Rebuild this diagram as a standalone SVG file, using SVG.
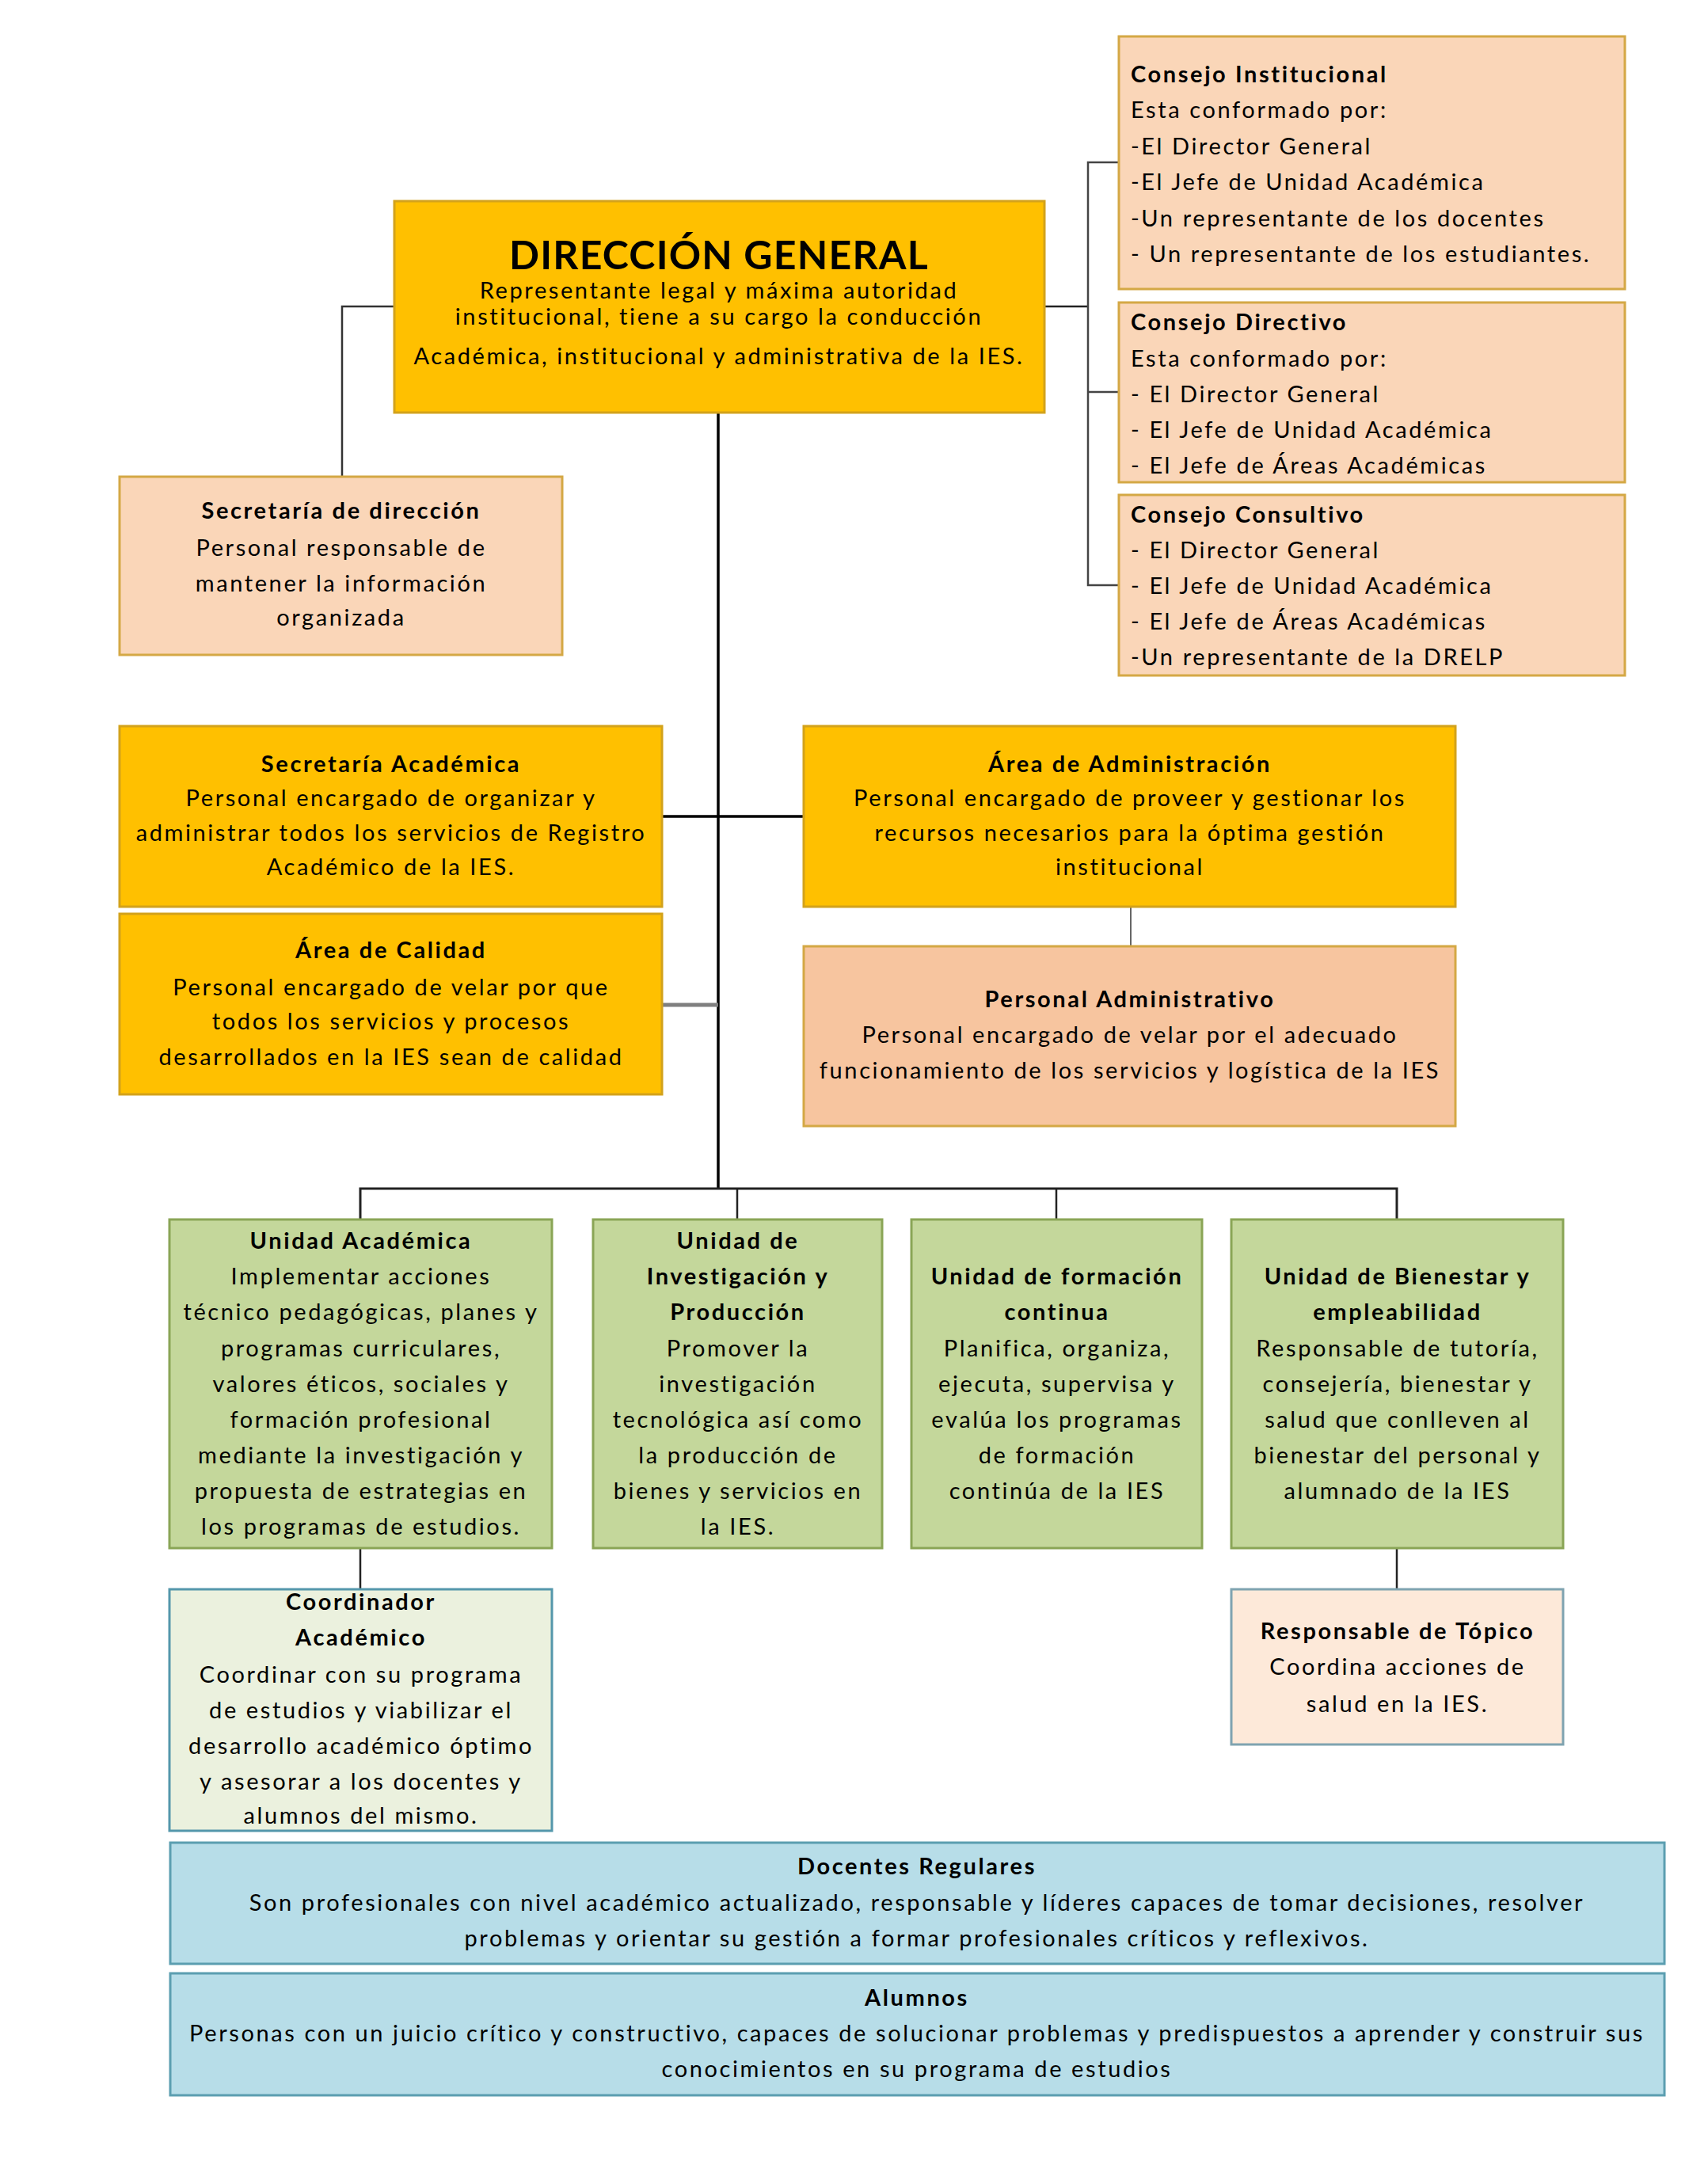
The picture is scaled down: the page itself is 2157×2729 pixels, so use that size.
<svg xmlns="http://www.w3.org/2000/svg" width="2157" height="2729" viewBox="0 0 2157 2729">
<style>
text{font-family:Lato,"Liberation Sans",sans-serif;font-size:29px;fill:#000;letter-spacing:2.6px}
.c{text-anchor:middle}
.b{font-weight:bold}
.t{font-size:50px;font-weight:bold;letter-spacing:1.2px}
.gold{fill:#FFC000;stroke:#D3A21B;stroke-width:3}
.peach{fill:#FAD6B8;stroke:#D4A845;stroke-width:3}
.peach2{fill:#F7C59F;stroke:#D4A845;stroke-width:3}
.green{fill:#C4D79B;stroke:#8AA556;stroke-width:3}
.lgreen{fill:#EBF1DE;stroke:#5497AB;stroke-width:3}
.lpink{fill:#FDE9D9;stroke:#7FA3B0;stroke-width:3}
.blue{fill:#B7DDE8;stroke:#5B9EB0;stroke-width:3}
.ln{fill:none;stroke:#222;stroke-width:2.5}
</style>
<rect width="2157" height="2729" fill="#fff"/>
<g id="connectors">
<line class="ln" x1="907" y1="521" x2="907" y2="1502" style="stroke:#000;stroke-width:3.5"/>
<polyline class="ln" points="498,387 432,387 432,601" style="stroke:#333"/>
<polyline class="ln" points="1319,387 1374,387"/>
<polyline class="ln" points="1413,205 1374,205 1374,739 1413,739" style="stroke:#444"/>
<line class="ln" x1="1374" y1="495" x2="1413" y2="495" style="stroke:#444"/>
<line class="ln" x1="836" y1="1031" x2="1015" y2="1031" style="stroke:#000;stroke-width:3.5"/>
<line class="ln" x1="836" y1="1269" x2="907" y2="1269" style="stroke:#7f7f7f;stroke-width:5"/>
<line class="ln" x1="1428" y1="1145" x2="1428" y2="1195" style="stroke:#666;stroke-width:2"/>
<polyline class="ln" points="455,1540 455,1501 1764,1501 1764,1540" style="stroke-width:3"/>
<line class="ln" x1="931" y1="1501" x2="931" y2="1540"/>
<line class="ln" x1="1334" y1="1501" x2="1334" y2="1540"/>
<line class="ln" x1="455" y1="1955" x2="455" y2="2012"/>
<line class="ln" x1="1764" y1="1955" x2="1764" y2="2007"/>
</g>
<g id="consejo-institucional">
<rect class="peach" x="1413" y="46" width="639" height="319"/>
<text x="1428" y="104" class="b">Consejo Institucional</text>
<text x="1428" y="149">Esta conformado por:</text>
<text x="1428" y="195">-El Director General</text>
<text x="1428" y="240">-El Jefe de Unidad Académica</text>
<text x="1428" y="286">-Un representante de los docentes</text>
<text x="1428" y="331">- Un representante de los estudiantes.</text>
</g>
<g id="consejo-directivo">
<rect class="peach" x="1413" y="382" width="639" height="227"/>
<text x="1428" y="417" class="b">Consejo Directivo</text>
<text x="1428" y="463">Esta conformado por:</text>
<text x="1428" y="508">- El Director General</text>
<text x="1428" y="553">- El Jefe de Unidad Académica</text>
<text x="1428" y="598">- El Jefe de Áreas Académicas</text>
</g>
<g id="consejo-consultivo">
<rect class="peach" x="1413" y="625" width="639" height="228"/>
<text x="1428" y="660" class="b">Consejo Consultivo</text>
<text x="1428" y="705">- El Director General</text>
<text x="1428" y="750">- El Jefe de Unidad Académica</text>
<text x="1428" y="795">- El Jefe de Áreas Académicas</text>
<text x="1428" y="840">-Un representante de la DRELP</text>
</g>
<g id="direccion-general">
<rect class="gold" x="498" y="254" width="821" height="267"/>
<text x="908" y="340" class="c t">DIRECCIÓN GENERAL</text>
<text x="908" y="377" class="c">Representante legal y máxima autoridad</text>
<text x="908" y="410" class="c">institucional, tiene a su cargo la conducción</text>
<text x="908" y="460" class="c">Académica, institucional y administrativa de la IES.</text>
</g>
<g id="secretaria-direccion">
<rect class="peach" x="151" y="602" width="559" height="225"/>
<text x="431" y="655" class="c b">Secretaría de dirección</text>
<text x="431" y="702" class="c">Personal responsable de</text>
<text x="431" y="747" class="c">mantener la información</text>
<text x="431" y="790" class="c">organizada</text>
</g>
<g id="secretaria-academica">
<rect class="gold" x="151" y="917" width="685" height="228"/>
<text x="494" y="975" class="c b">Secretaría Académica</text>
<text x="494" y="1018" class="c">Personal encargado de organizar y</text>
<text x="494" y="1062" class="c">administrar todos los servicios de Registro</text>
<text x="494" y="1105" class="c">Académico de la IES.</text>
</g>
<g id="area-administracion">
<rect class="gold" x="1015" y="917" width="823" height="228"/>
<text x="1427" y="975" class="c b">Área de Administración</text>
<text x="1427" y="1018" class="c">Personal encargado de proveer y gestionar los</text>
<text x="1427" y="1062" class="c">recursos necesarios para la óptima gestión</text>
<text x="1427" y="1105" class="c">institucional</text>
</g>
<g id="area-calidad">
<rect class="gold" x="151" y="1154" width="685" height="228"/>
<text x="494" y="1210" class="c b">Área de Calidad</text>
<text x="494" y="1257" class="c">Personal encargado de velar por que</text>
<text x="494" y="1300" class="c">todos los servicios y procesos</text>
<text x="494" y="1345" class="c">desarrollados en la IES sean de calidad</text>
</g>
<g id="personal-administrativo">
<rect class="peach2" x="1015" y="1195" width="823" height="227"/>
<text x="1427" y="1272" class="c b">Personal Administrativo</text>
<text x="1427" y="1317" class="c">Personal encargado de velar por el adecuado</text>
<text x="1427" y="1362" class="c">funcionamiento de los servicios y logística de la IES</text>
</g>
<g id="unidad-academica">
<rect class="green" x="214" y="1540" width="483" height="415"/>
<text x="456" y="1577" class="c b">Unidad Académica</text>
<text x="456" y="1622" class="c">Implementar acciones</text>
<text x="456" y="1667" class="c">técnico pedagógicas, planes y</text>
<text x="456" y="1713" class="c">programas curriculares,</text>
<text x="456" y="1758" class="c">valores éticos, sociales y</text>
<text x="456" y="1803" class="c">formación profesional</text>
<text x="456" y="1848" class="c">mediante la investigación y</text>
<text x="456" y="1893" class="c">propuesta de estrategias en</text>
<text x="456" y="1938" class="c">los programas de estudios.</text>
</g>
<g id="unidad-investigacion">
<rect class="green" x="749" y="1540" width="365" height="415"/>
<text x="932" y="1577" class="c b">Unidad de</text>
<text x="932" y="1622" class="c b">Investigación y</text>
<text x="932" y="1667" class="c b">Producción</text>
<text x="932" y="1713" class="c">Promover la</text>
<text x="932" y="1758" class="c">investigación</text>
<text x="932" y="1803" class="c">tecnológica así como</text>
<text x="932" y="1848" class="c">la producción de</text>
<text x="932" y="1893" class="c">bienes y servicios en</text>
<text x="932" y="1938" class="c">la IES.</text>
</g>
<g id="unidad-formacion">
<rect class="green" x="1151" y="1540" width="367" height="415"/>
<text x="1335" y="1622" class="c b">Unidad de formación</text>
<text x="1335" y="1667" class="c b">continua</text>
<text x="1335" y="1713" class="c">Planifica, organiza,</text>
<text x="1335" y="1758" class="c">ejecuta, supervisa y</text>
<text x="1335" y="1803" class="c">evalúa los programas</text>
<text x="1335" y="1848" class="c">de formación</text>
<text x="1335" y="1893" class="c">continúa de la IES</text>
</g>
<g id="unidad-bienestar">
<rect class="green" x="1555" y="1540" width="419" height="415"/>
<text x="1765" y="1622" class="c b">Unidad de Bienestar y</text>
<text x="1765" y="1667" class="c b">empleabilidad</text>
<text x="1765" y="1713" class="c">Responsable de tutoría,</text>
<text x="1765" y="1758" class="c">consejería, bienestar y</text>
<text x="1765" y="1803" class="c">salud que conlleven al</text>
<text x="1765" y="1848" class="c">bienestar del personal y</text>
<text x="1765" y="1893" class="c">alumnado de la IES</text>
</g>
<g id="coordinador-academico">
<rect class="lgreen" x="214" y="2007" width="483" height="305"/>
<text x="456" y="2033" class="c b">Coordinador</text>
<text x="456" y="2078" class="c b">Académico</text>
<text x="456" y="2125" class="c">Coordinar con su programa</text>
<text x="456" y="2170" class="c">de estudios y viabilizar el</text>
<text x="456" y="2215" class="c">desarrollo académico óptimo</text>
<text x="456" y="2260" class="c">y asesorar a los docentes y</text>
<text x="456" y="2303" class="c">alumnos del mismo.</text>
</g>
<g id="responsable-topico">
<rect class="lpink" x="1555" y="2007" width="419" height="196"/>
<text x="1765" y="2070" class="c b">Responsable de Tópico</text>
<text x="1765" y="2115" class="c">Coordina acciones de</text>
<text x="1765" y="2162" class="c">salud en la IES.</text>
</g>
<g id="docentes-regulares">
<rect class="blue" x="215" y="2327" width="1887" height="153"/>
<text x="1158" y="2367" class="c b">Docentes Regulares</text>
<text x="1158" y="2413" class="c">Son profesionales con nivel académico actualizado, responsable y líderes capaces de tomar decisiones, resolver</text>
<text x="1158" y="2458" class="c">problemas y orientar su gestión a formar profesionales críticos y reflexivos.</text>
</g>
<g id="alumnos">
<rect class="blue" x="215" y="2492" width="1887" height="154"/>
<text x="1158" y="2533" class="c b">Alumnos</text>
<text x="1158" y="2578" class="c">Personas con un juicio crítico y constructivo, capaces de solucionar problemas y predispuestos a aprender y construir sus</text>
<text x="1158" y="2623" class="c">conocimientos en su programa de estudios</text>
</g>
</svg>
